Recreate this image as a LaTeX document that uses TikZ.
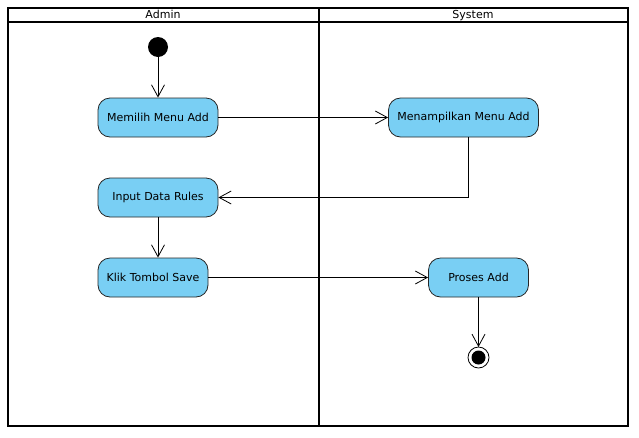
\documentclass[tikz,border=0pt]{standalone}
\usepackage{fontspec}
\setmainfont{DejaVu Sans}
\usetikzlibrary{arrows.meta}
\definecolor{actblue}{RGB}{121,207,244}

\begin{document}
\begin{tikzpicture}[x=1pt,y=-1pt,
	font=\fontsize{11}{13}\selectfont,
	act/.style={draw=black!85,fill=actblue,rounded corners=12pt,line width=.8pt,minimum height=39pt,inner sep=0pt},
	flow/.style={line width=.8pt,-{Straight Barb[length=12pt,width=13pt,line width=.8pt]}},
	lane/.style={line width=2pt},
	head/.style={anchor=base,inner sep=0pt}]
	\useasboundingbox (0,0) rectangle (639,437);
	% swimlanes
	\draw [lane] (8,8) rectangle (628,426);
	\draw [lane] (8,21.5) -- (628,21.5);
	\draw [lane] (318.5,8) -- (318.5,426);
	\node [head] (admin) at (163,18.5) {Admin};
	\node [head] (system) at (473,18.5) {System};
	% activities
	\fill (158,47) circle [radius=10] coordinate (start);
	\node [act,minimum width=120pt] (memilih) at (158,117.5) {Memilih Menu Add};
	\node [act,minimum width=150pt] (tampil) at (463.5,117.5) {Menampilkan Menu Add};
	\node [act,minimum width=120pt] (input) at (158,197.5) {Input Data Rules};
	\node [act,minimum width=110pt] (klik) at (153,277.5) {Klik Tombol Save};
	\node [act,minimum width=100pt] (proses) at (478.5,277.5) {Proses Add};
	\draw [line width=.8pt] (478.5,357.5) circle [radius=10.5];
	\fill (478.5,357.5) circle [radius=7];
	\coordinate (stop) at (478.5,347);
	% flows
	\draw [flow] ([yshift=-10pt]start) -- (memilih.north);
	\draw [flow] (memilih.east) -- (tampil.west);
	\draw [flow] ([xshift=4.5pt]tampil.south) |- (input.east);
	\draw [flow] (input.south) -- (input.south |- klik.north);
	\draw [flow] (klik.east) -- (proses.west);
	\draw [flow] (proses.south) -- (stop);
\end{tikzpicture}
\end{document}
